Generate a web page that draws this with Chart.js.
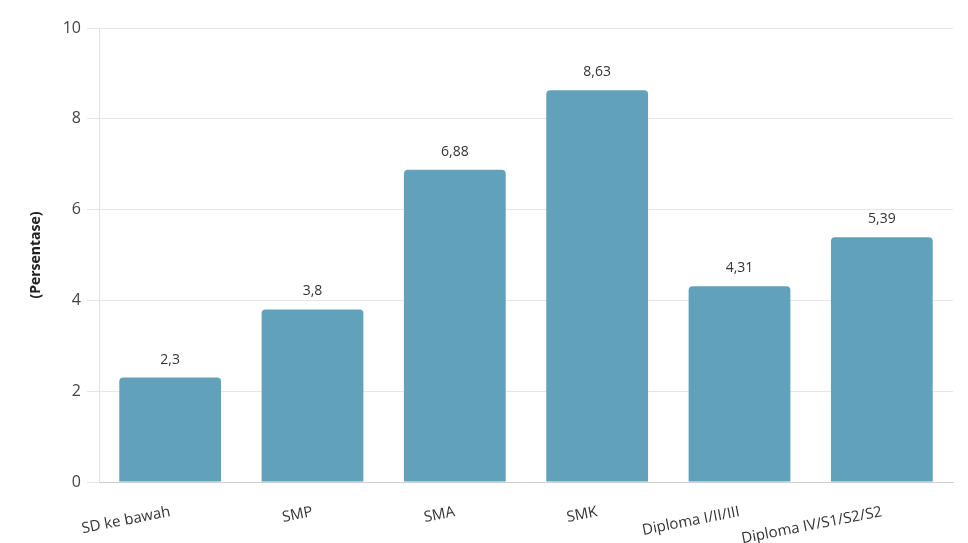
<!DOCTYPE html>
<html lang="id">
<head>
  <meta charset="UTF-8" />
  <title>Persentase</title>
  <script src="https://cdn.jsdelivr.net/npm/chart.js"></script>
  <style>
    html, body { margin: 0; padding: 0; background: #fff; }
    #wrap { width: 968px; height: 543px; }
  </style>
</head>
<body>
  <div id="wrap"><canvas id="chart"></canvas></div>

  <script>
    const categories = ['SD ke bawah', 'SMP', 'SMA', 'SMK', 'Diploma I/II/III', 'Diploma IV/S1/S2/S2'];
    const values = [2.3, 3.8, 6.88, 8.63, 4.31, 5.39];
    const yTicks = [0, 2, 4, 6, 8, 10];

    const fmt = v => String(v).replace('.', ',');
    const FONT = '"Open Sans", Lato, sans-serif';

    // value labels above the bars
    const barLabels = {
      id: 'barLabels',
      afterDatasetsDraw(chart) {
        const ctx = chart.ctx;
        ctx.save();
        ctx.font = '14px ' + FONT;
        ctx.fillStyle = '#333';
        ctx.textAlign = 'center';
        ctx.textBaseline = 'bottom';
        chart.getDatasetMeta(0).data.forEach((bar, i) => {
          ctx.fillText(fmt(values[i]), bar.x, bar.y - 11);
        });
        ctx.restore();
      }
    };

    new Chart(document.getElementById('chart'), {
      type: 'bar',
      data: {
        labels: categories,
        datasets: [{
          data: values,
          backgroundColor: '#61a1bb',
          borderRadius: { topLeft: 4, topRight: 4 },
          borderSkipped: 'bottom',
          categoryPercentage: 1,
          barPercentage: 0.715
        }]
      },
      options: {
        responsive: true,
        maintainAspectRatio: false,
        animation: false,
        layout: { padding: { top: 28, right: 15, left: 24, bottom: 0 } },
        plugins: {
          legend: { display: false },
          tooltip: { enabled: false }
        },
        scales: {
          x: {
            grid: { display: false },
            border: { color: '#cfcfcf' },
            afterFit: axis => { axis.height = 61; },
            ticks: {
              color: '#333',
              padding: 13,
              font: { family: FONT, size: 15 },
              minRotation: 11,
              maxRotation: 11,
              autoSkip: false
            }
          },
          y: {
            min: 0,
            max: 10,
            afterBuildTicks: axis => { axis.ticks = yTicks.map(v => ({ value: v })); },
            afterFit: axis => { axis.width = 75; },
            grid: { color: '#e6e6e6', tickLength: 12 },
            border: { color: '#e0e0e0' },
            ticks: {
              color: '#444',
              padding: 6,
              font: { family: FONT, size: 16 }
            },
            title: {
              display: true,
              text: '(Persentase)',
              color: '#222',
              padding: { bottom: 18 },
              font: { family: FONT, size: 14, weight: 'bold' }
            }
          }
        }
      },
      plugins: [barLabels]
    });
  </script>
</body>
</html>
